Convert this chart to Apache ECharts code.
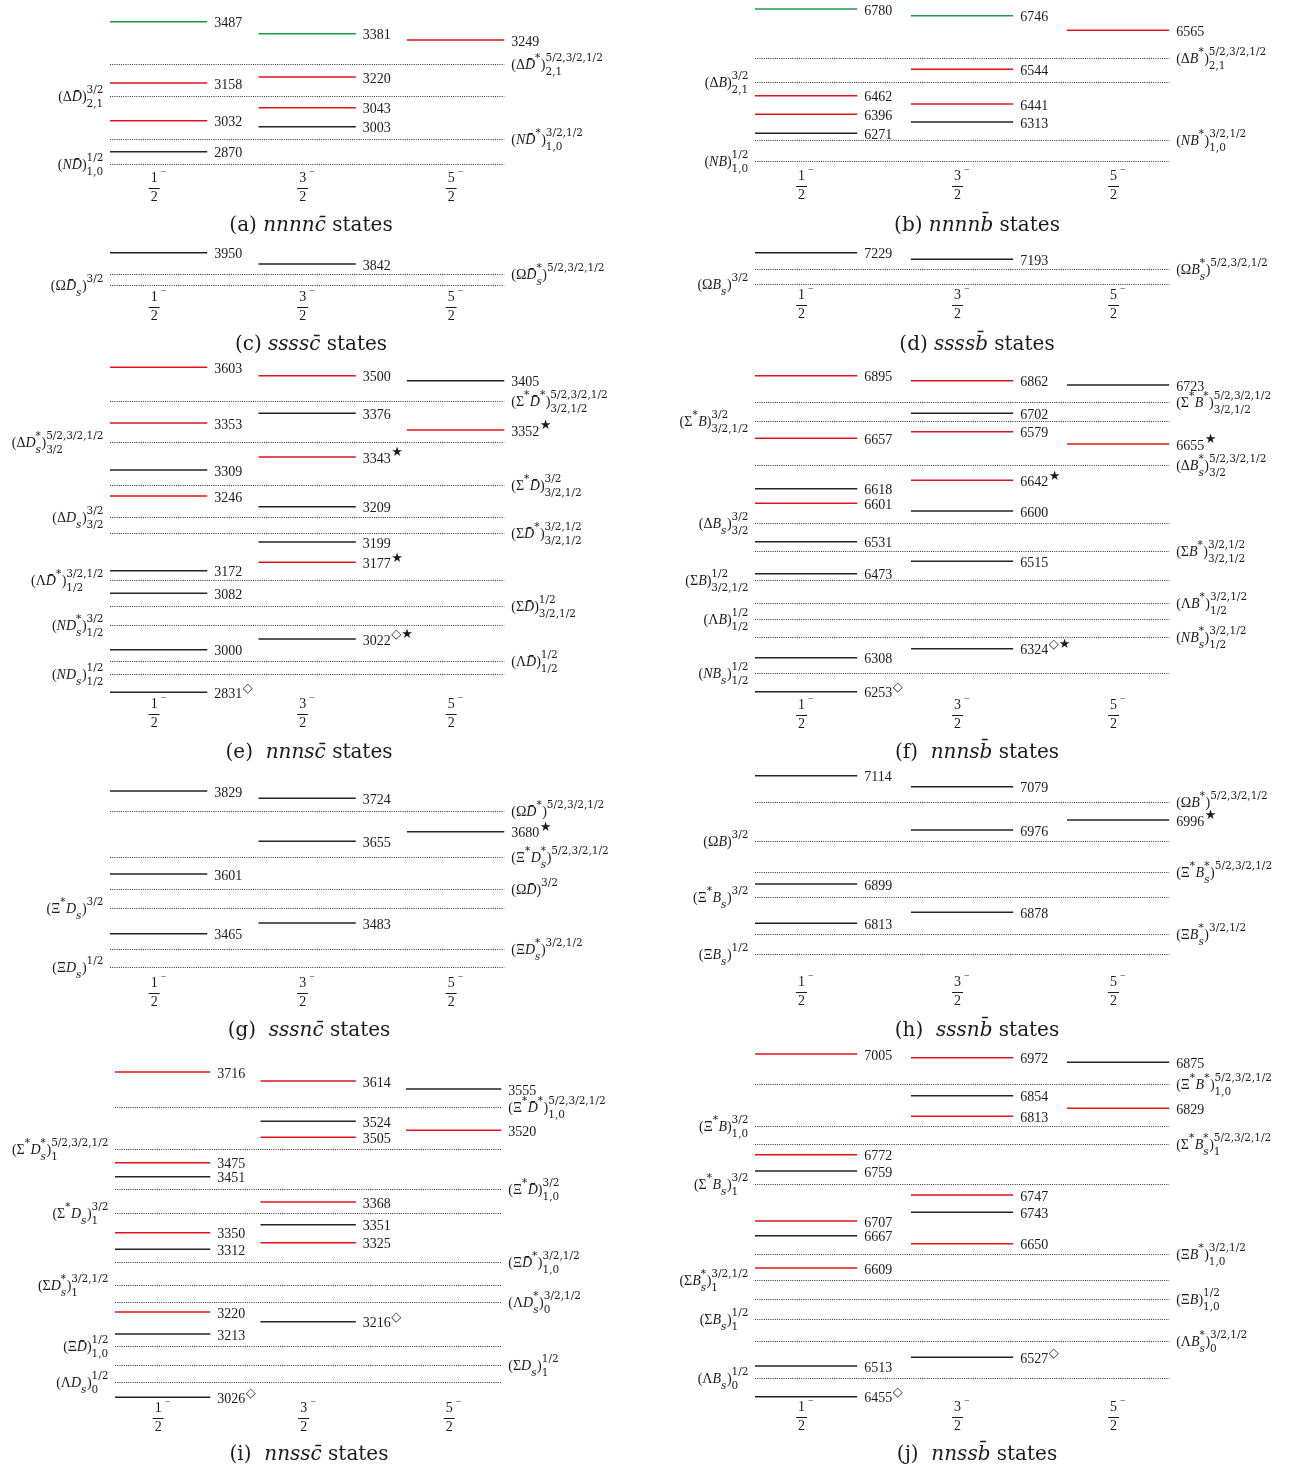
<!DOCTYPE html>
<html><head><meta charset="utf-8">
<script src="https://cdn.jsdelivr.net/npm/echarts@6/dist/echarts.min.js"></script>
<style>html,body{margin:0;padding:0;background:#fff}#c{width:1293px;height:1473px}</style>
</head><body><div id="c"></div>
<script>
// ---------------- DATA ----------------
// spin-parity columns J^P
const spinNumerators = ['1', '3', '5'];
const spinDenominator = '2';
const parity = '\u2212';

// levels: [column (0:1/2-,1:3/2-,2:5/2-), mass MeV, plotted ordinate (schematic), colour key, marker]
const levelsA = [[0,3487,148.3,'g',''],[1,3381,136.3,'g',''],[2,3249,130,'r',''],[1,3220,93,'r',''],[0,3158,87,'r',''],
  [1,3043,62.3,'r',''],[0,3032,49.3,'r',''],[1,3003,43.3,'k',''],[0,2870,18.3,'k','']];
// thresholds: [plotted ordinate, label side, label]
const thresholdsA = [[106,'R','(ΔD̄^*)^{5/2,3/2,1/2}_{2,1}'],[74.3,'L','(ΔD̄)^{3/2}_{2,1}'],
  [31,'R','(ND̄^*)^{3/2,1/2}_{1,0}'],[6.3,'L','(ND̄)^{1/2}_{1,0}']];

const levelsB = [[0,6780,161,'g',''],[1,6746,154.3,'g',''],[2,6565,139.7,'r',''],[1,6544,100.7,'r',''],[0,6462,74.3,'r',''],
  [1,6441,66,'r',''],[0,6396,55.7,'r',''],[1,6313,48,'k',''],[0,6271,36.7,'k','']];
const thresholdsB = [[112.3,'R','(ΔB^*)^{5/2,3/2,1/2}_{2,1}'],[88,'L','(ΔB)^{3/2}_{2,1}'],
  [29.7,'R','(NB^*)^{3/2,1/2}_{1,0}'],[8.7,'L','(NB)^{1/2}_{1,0}']];

const levelsC = [[0,3950,37.3,'k',''],[1,3842,26,'k','']];
const thresholdsC = [[16.3,'R','(ΩD̄^*_s)^{5/2,3/2,1/2}'],[4.7,'L','(ΩD̄_s)^{3/2}']];

const levelsD = [[0,7229,37.3,'k',''],[1,7193,30.7,'k','']];
const thresholdsD = [[20.7,'R','(ΩB^*_s)^{5/2,3/2,1/2}'],[5.7,'L','(ΩB_s)^{3/2}']];

const levelsE = [[0,3603,332.7,'r',''],[1,3500,324.3,'r',''],[2,3405,319.3,'k',''],[1,3376,286.7,'k',''],[0,3353,277,'r',''],
  [2,3352,270,'r','★'],[1,3343,243,'r','★'],[0,3309,230,'k',''],[0,3246,204,'r',''],[1,3209,193.3,'k',''],
  [1,3199,158,'k',''],[1,3177,137.7,'r','★'],[0,3172,129.3,'k',''],[0,3082,106.7,'k',''],[1,3022,61,'k','◇★'],
  [0,3000,50.3,'k',''],[0,2831,7.7,'k','◇']];
const thresholdsE = [[299.3,'R','(Σ^*D̄^*)^{5/2,3/2,1/2}_{3/2,1/2}'],[257.7,'L','(ΔD^*_s)^{5/2,3/2,1/2}_{3/2}'],
  [215.3,'R','(Σ^*D̄)^{3/2}_{3/2,1/2}'],[183.3,'L','(ΔD_s)^{3/2}_{3/2}'],[166.7,'R','(ΣD̄^*)^{3/2,1/2}_{3/2,1/2}'],
  [120.3,'L','(ΛD̄^*)^{3/2,1/2}_{1/2}'],[94.3,'R','(ΣD̄)^{1/2}_{3/2,1/2}'],[75.3,'L','(ND^*_s)^{3/2}_{1/2}'],
  [39.3,'R','(ΛD̄)^{1/2}_{1/2}'],[25.7,'L','(ND_s)^{1/2}_{1/2}']];

const levelsF = [[0,6895,324.3,'r',''],[1,6862,319.3,'r',''],[2,6723,315,'k',''],[1,6702,286.7,'k',''],[1,6579,268.3,'r',''],
  [0,6657,261.7,'r',''],[2,6655,256,'r','★'],[1,6642,219.7,'r','★'],[0,6618,211.3,'k',''],[0,6601,196.7,'r',''],
  [1,6600,189,'k',''],[0,6531,158.3,'k',''],[1,6515,138.7,'k',''],[0,6473,126.3,'k',''],[1,6324,51.3,'k','◇★'],
  [0,6308,42.3,'k',''],[0,6253,8.3,'k','◇']];
const thresholdsF = [[297.7,'R','(Σ^*B^*)^{5/2,3/2,1/2}_{3/2,1/2}'],[279,'L','(Σ^*B)^{3/2}_{3/2,1/2}'],
  [235.3,'R','(ΔB^*_s)^{5/2,3/2,1/2}_{3/2}'],[177.3,'L','(ΔB_s)^{3/2}_{3/2}'],[148.7,'R','(ΣB^*)^{3/2,1/2}_{3/2,1/2}'],
  [119.7,'L','(ΣB)^{1/2}_{3/2,1/2}'],[97,'R','(ΛB^*)^{3/2,1/2}_{1/2}'],[80.7,'L','(ΛB)^{1/2}_{1/2}'],
  [63,'R','(NB^*_s)^{3/2,1/2}_{1/2}'],[26.7,'L','(NB_s)^{1/2}_{1/2}']];

const levelsG = [[0,3829,184,'k',''],[1,3724,176.7,'k',''],[2,3680,143.3,'k','★'],[1,3655,133.7,'k',''],
  [0,3601,101,'k',''],[1,3483,52,'k',''],[0,3465,41.3,'k','']];
const thresholdsG = [[164,'R','(ΩD̄^*)^{5/2,3/2,1/2}'],[118.3,'R','(Ξ^*D^*_s)^{5/2,3/2,1/2}'],[85.7,'R','(ΩD̄)^{3/2}'],
  [67,'L','(Ξ^*D_s)^{3/2}'],[25.7,'R','(ΞD^*_s)^{3/2,1/2}'],[7.7,'L','(ΞD_s)^{1/2}']];

const levelsH = [[0,7114,199.3,'k',''],[1,7079,188.3,'k',''],[2,6996,155,'k','★'],[1,6976,145,'k',''],
  [0,6899,91,'k',''],[1,6878,62.7,'k',''],[0,6813,51.7,'k','']];
const thresholdsH = [[173.3,'R','(ΩB^*)^{5/2,3/2,1/2}'],[134.3,'L','(ΩB)^{3/2}'],[103.3,'R','(Ξ^*B^*_s)^{5/2,3/2,1/2}'],
  [77.7,'L','(Ξ^*B_s)^{3/2}'],[41.3,'R','(ΞB^*_s)^{3/2,1/2}'],[21,'L','(ΞB_s)^{1/2}']];

const levelsI = [[0,3716,333,'r',''],[1,3614,324,'r',''],[2,3555,316,'k',''],[1,3524,283.7,'k',''],[2,3520,274.7,'r',''],
  [1,3505,267.7,'r',''],[0,3475,242.3,'r',''],[0,3451,228.3,'k',''],[1,3368,203,'r',''],[1,3351,180.3,'k',''],
  [0,3350,172.3,'r',''],[1,3325,162.3,'r',''],[0,3312,155.7,'k',''],[0,3220,93,'r',''],[1,3216,83.3,'k','◇'],
  [0,3213,71,'k',''],[0,3026,7.7,'k','◇']];
const thresholdsI = [[298,'R','(Ξ^*D̄^*)^{5/2,3/2,1/2}_{1,0}'],[256,'L','(Σ^*D^*_s)^{5/2,3/2,1/2}_1'],
  [216.3,'R','(Ξ^*D̄)^{3/2}_{1,0}'],[192.3,'L','(Σ^*D_s)^{3/2}_1'],[143,'R','(ΞD̄^*)^{3/2,1/2}_{1,0}'],
  [120,'L','(ΣD^*_s)^{3/2,1/2}_1'],[103,'R','(ΛD^*_s)^{3/2,1/2}_0'],[59,'L','(ΞD̄)^{1/2}_{1,0}'],
  [39.7,'R','(ΣD_s)^{1/2}_1'],[23.3,'L','(ΛD_s)^{1/2}_0']];

const levelsJ = [[0,7005,351,'r',''],[1,6972,347.3,'r',''],[2,6875,342.7,'k',''],[1,6854,309.3,'k',''],[2,6829,296.7,'r',''],
  [1,6813,288.7,'r',''],[0,6772,250.3,'r',''],[0,6759,234,'k',''],[1,6747,210,'r',''],[1,6743,192.7,'k',''],
  [0,6707,184,'r',''],[0,6667,169.3,'k',''],[1,6650,161.3,'r',''],[0,6609,137,'r',''],[1,6527,47.7,'k','◇'],
  [0,6513,39,'k',''],[0,6455,8.3,'k','◇']];
const thresholdsJ = [[321,'R','(Ξ^*B^*)^{5/2,3/2,1/2}_{1,0}'],[279.3,'L','(Ξ^*B)^{3/2}_{1,0}'],
  [261.3,'R','(Σ^*B^*_s)^{5/2,3/2,1/2}_1'],[221.3,'L','(Σ^*B_s)^{3/2}_1'],[150.7,'R','(ΞB^*)^{3/2,1/2}_{1,0}'],
  [125,'L','(ΣB^*_s)^{3/2,1/2}_1'],[105.7,'R','(ΞB)^{1/2}_{1,0}'],[86.3,'L','(ΣB_s)^{1/2}_1'],
  [64.3,'R','(ΛB^*_s)^{3/2,1/2}_0'],[27,'L','(ΛB_s)^{1/2}_0']];

const captionTags = ['(a)','(b)','(c)','(d)','(e)','(f)','(g)','(h)','(i)','(j)'];
const captionQuarks = ['nnnnc̄','nnnnb̄','ssssc̄','ssssb̄','nnnsc̄','nnnsb̄','sssnc̄','sssnb̄','nnssc̄','nnssb̄'];
const captionWord = 'states';

// ---------------- LAYOUT / STYLE ----------------
const W = 0.655, XMAX = 2 + W;
const F_MAIN = '"Liberation Serif","Times New Roman",serif';
const F_SCR = '"DejaVu Serif",serif';
const F_SYM = '"DejaVu Sans",sans-serif';
const COLORS = {k:'#222222', r:'#e3131b', g:'#1d9b4b'};
const panels = [
  {lv:levelsA, th:thresholdsA, x0:110, pitch:148.5, top:0,    base:170,  tickDy:8, capX:311, capY:226, gap:' '},
  {lv:levelsB, th:thresholdsB, x0:755, pitch:156,   top:0,    base:170,  tickDy:6, capX:977, capY:226, gap:' '},
  {lv:levelsC, th:thresholdsC, x0:110, pitch:148.5, top:240,  base:290,  tickDy:7, capX:311, capY:345, gap:' '},
  {lv:levelsD, th:thresholdsD, x0:755, pitch:156,   top:240,  base:290,  tickDy:5, capX:977, capY:345, gap:' '},
  {lv:levelsE, th:thresholdsE, x0:110, pitch:148.5, top:360,  base:700,  tickDy:4, capX:309, capY:753, gap:'  '},
  {lv:levelsF, th:thresholdsF, x0:755, pitch:156,   top:360,  base:700,  tickDy:5, capX:977, capY:753, gap:'  '},
  {lv:levelsG, th:thresholdsG, x0:110, pitch:148.5, top:770,  base:975,  tickDy:8, capX:309, capY:1031, gap:'  '},
  {lv:levelsH, th:thresholdsH, x0:755, pitch:156,   top:770,  base:975,  tickDy:7, capX:977, capY:1031, gap:'  '},
  {lv:levelsI, th:thresholdsI, x0:115, pitch:145.5, top:1045, base:1405, tickDy:3, capX:309, capY:1455, gap:'  '},
  {lv:levelsJ, th:thresholdsJ, x0:755, pitch:156,   top:1045, base:1405, tickDy:2, capX:977, capY:1455, gap:'  '}
];

// ---------------- tiny typesetter ----------------
const mctx = document.createElement('canvas').getContext('2d');
function tw(text, size, family, italic){ mctx.font = (italic?'italic ':'') + size + 'px ' + family; return mctx.measureText(text).width; }
function splitChars(s){ const out=[]; for (const c of s){ if (/[\u0300-\u036f]/.test(c) && out.length) out[out.length-1]+=c; else out.push(c);} return out; }
function parseLabel(s){
  const items=[]; const ch=splitChars(s); let i=0;
  const group=()=>{ if(ch[i]==='{'){ let g=''; i++; while(ch[i]!=='}'){ g+=ch[i]; i++; } i++; return g; } return ch[i++]; };
  while(i<ch.length){
    const c=ch[i];
    if(c==='^'||c==='_'){ i++; const g=group(); const key=c==='^'?'sup':'sub'; const last=items[items.length-1];
      if(last && last.kind==='s' && last[key]==null) last[key]=g; else items.push({kind:'s', sup:key==='sup'?g:null, sub:key==='sub'?g:null});
    } else { items.push({kind:'c', text:c}); i++; }
  }
  return items;
}
const BASE_SZ=14, SCR_SZ=10.5;
function typeset(label){
  const pieces=[]; let x=0;
  function put(str,size,family,dy){ let w=0; for(const c of splitChars(str)){ const it=/[A-Za-z]/.test(c[0]); pieces.push({text:c,dx:x+w,dy,size,family,it}); w+=tw(c,size,family,it);} return w; }
  for(const it of parseLabel(label)){
    if(it.kind==='c') x+=put(it.text,BASE_SZ,F_MAIN,0);
    else { let a=0,b=0; if(it.sup!=null) a=put(it.sup,SCR_SZ,F_SCR,-7); if(it.sub!=null) b=put(it.sub,SCR_SZ,F_SCR,7); x+=Math.max(a,b)+0.5; }
  }
  return {pieces, width:x};
}
function txt(x,y,text,size,family,italic,align,fill){
  return {type:'text', x, y, style:{text, fontSize:size, fontFamily:family, fontStyle:italic?'italic':'normal', fill:fill||'#1a1a1a', align:align||'left', verticalAlign:'middle'}};
}

// ---------------- build option ----------------
const grid=[], xAxis=[], yAxis=[], series=[], graphic=[];
panels.forEach((p, k) => {
  const H = p.base - p.top;
  grid.push({left:p.x0, top:p.top, width:p.pitch*XMAX, height:H});
  xAxis.push({type:'value', gridIndex:k, min:0, max:XMAX, show:false});
  yAxis.push({type:'value', gridIndex:k, min:0, max:H, show:false});
  // thresholds (dotted)
  series.push({type:'custom', xAxisIndex:k, yAxisIndex:k, clip:false, silent:true,
    data: p.th.map(t => [0, t[0]]),
    renderItem(params, api){
      const t = p.th[params.dataIndex]; const y = api.value(1);
      const a = api.coord([0, y]), b = api.coord([XMAX, y]);
      const yy = Math.round(a[1]) + 0.5;
      const ch = [{type:'line', shape:{x1:a[0], y1:yy, x2:b[0], y2:yy}, style:{stroke:'#333', lineWidth:1, lineDash:[1,1.2]}}];
      const ts = typeset(t[2]);
      const sx = t[1]==='R' ? b[0] + 7 : a[0] - 6 - ts.width;
      ts.pieces.forEach(pc => ch.push(txt(sx+pc.dx, yy+1+pc.dy, pc.text, pc.size, pc.family, pc.it)));
      return {type:'group', children:ch};
    }});
  // levels
  series.push({type:'custom', xAxisIndex:k, yAxisIndex:k, clip:false, silent:true,
    data: p.lv.map(l => [l[0], l[2]]),
    renderItem(params, api){
      const l = p.lv[params.dataIndex]; const col = api.value(0), y = api.value(1);
      const a = api.coord([col, y]), b = api.coord([col + W, y]);
      const ch = [{type:'line', shape:{x1:a[0], y1:a[1], x2:b[0], y2:b[1]}, style:{stroke:COLORS[l[3]], lineWidth:1.6}}];
      const label = String(l[1]);
      ch.push(txt(b[0]+7, a[1]+2, label, 14, F_MAIN, false));
      if (l[4]) ch.push(txt(b[0]+7+tw(label,14,F_MAIN,false)+0.5, a[1]-4, l[4], 13, F_SYM, false));
      return {type:'group', children:ch};
    }});
  // spin-parity tick labels
  series.push({type:'custom', xAxisIndex:k, yAxisIndex:k, clip:false, silent:true,
    data: spinNumerators.map((n, i) => [i, 0]),
    renderItem(params, api){
      const i = params.dataIndex;
      const c = api.coord([api.value(0) + W/2, api.value(1)]);
      const cx = c[0] - 4.5, ny = c[1] + p.tickDy;
      return {type:'group', children:[
        txt(cx, ny, spinNumerators[i], 14, F_MAIN, false, 'center'),
        txt(cx+6.5, ny-5.5, parity, 10, F_MAIN, false, 'left'),
        {type:'line', shape:{x1:cx-5.5, y1:Math.round(ny+10)+0.5, x2:cx+5.5, y2:Math.round(ny+10)+0.5}, style:{stroke:'#1a1a1a', lineWidth:1}},
        txt(cx, ny+19.5, spinDenominator, 14, F_MAIN, false, 'center')
      ]};
    }});
  graphic.push({type:'text', x:p.capX, y:p.capY, style:{
    text: captionTags[k] + p.gap + '{q|' + captionQuarks[k] + '} ' + captionWord,
    fontSize:20, fontFamily:F_SCR, fill:'#1a1a1a', align:'center', verticalAlign:'middle',
    rich:{q:{fontStyle:'italic', fontSize:20, fontFamily:F_SCR, fill:'#1a1a1a'}}}});
});

const chart = echarts.init(document.getElementById('c'), null, {renderer:'canvas'});
chart.setOption({animation:false, backgroundColor:'#fff', grid, xAxis, yAxis, series, graphic});
</script></body></html>
